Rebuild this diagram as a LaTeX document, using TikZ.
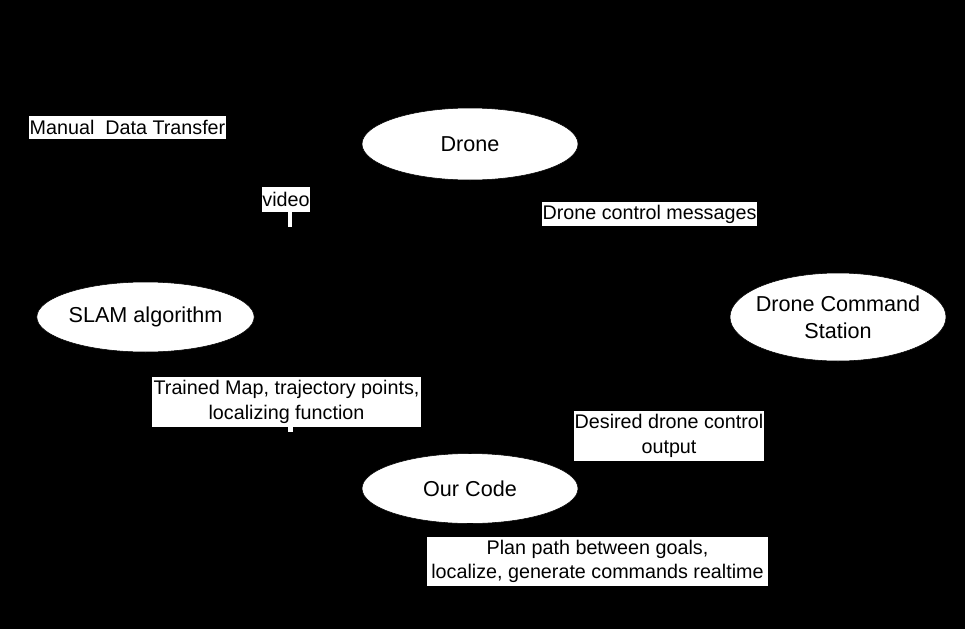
\documentclass[tikz,border=0pt]{standalone}
\usepackage{fontspec}
\setmainfont{Liberation Sans}
\usetikzlibrary{shapes.geometric}
\begin{document}
\begin{tikzpicture}[x=0.75pt,y=-0.75pt,
  ell/.style={ellipse,draw=black,fill=white,inner sep=0pt,align=center,
    font=\fontsize{16.2}{20}\selectfont},
  lbl/.style={rectangle,fill=white,inner sep=0pt,align=center,
    font=\fontsize{14.8}{18.2}\selectfont},
  stub/.style={draw=white,line width=3.6pt}]
\fill[black] (0,0) rectangle (965,629);
\useasboundingbox (0,0) rectangle (965,629);
% nodes
\node[ell,minimum width=162pt,minimum height=54pt] (drone) at (470,144) {Drone};
\node[ell,minimum width=161.25pt,minimum height=52.5pt] (slam) at (145.5,317) {SLAM algorithm};
\node[ell,inner xsep=-6pt,inner ysep=-4pt,minimum width=162pt,minimum height=66pt] (dcs) at (838,317) {Drone Command\\Station};
\node[ell,minimum width=162pt,minimum height=52.5pt] (code) at (470,488.5) {Our Code};
% labels
\node[lbl,minimum width=147.75pt,minimum height=17.25pt] (manual) at (127.5,127.5) {Manual\ \ Data Transfer};
\node[lbl,minimum width=36pt,minimum height=18.75pt] (video) at (286,199.5) {video};
\node[lbl,minimum width=161.25pt,minimum height=18pt] (dcm) at (649.5,214) {Drone control messages};
\node[lbl,minimum width=201.75pt,minimum height=37.5pt] (trained) at (286.5,402) {Trained Map, trajectory points,\\localizing function};
\node[lbl,minimum width=142.5pt,minimum height=37.5pt] (desired) at (669,436) {Desired drone control\\output};
\node[lbl,minimum width=255.75pt,minimum height=36.75pt] (plan) at (597.5,561.5) {Plan path between goals,\\localize, generate commands realtime};
% white stubs below labels
\coordinate (vs) at (290,227);
\coordinate (ts) at (290.5,432);
\draw[stub] (video.south -| vs) -- (vs);
\draw[stub] (trained.south -| ts) -- (ts);
\end{tikzpicture}
\end{document}
